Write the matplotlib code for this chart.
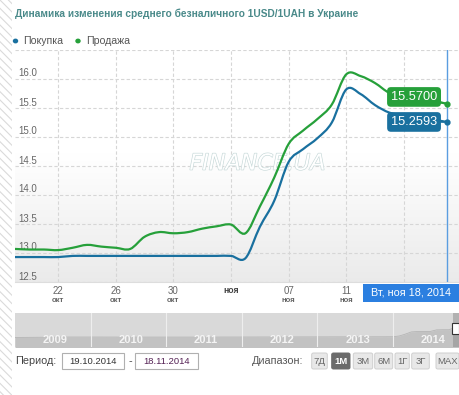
import matplotlib
matplotlib.use('Agg')
import matplotlib.pyplot as plt
import matplotlib.patheffects as pe
import matplotlib.dates as mdates
from matplotlib.patches import Rectangle, FancyBboxPatch, PathPatch
from matplotlib.path import Path
import numpy as np
import pandas as pd

W, H = 460, 395

# --- data ---
dates = pd.date_range('2014-10-19', '2014-11-18', freq='D')
buy = [12.93, 12.93, 12.93, 12.93, 12.95, 12.95, 12.95, 12.95, 12.95, 12.95,
       12.95, 12.95, 12.95, 12.95, 12.95, 12.95, 12.91, 13.45, 13.90, 14.57,
       14.79, 14.98, 15.25, 15.82, 15.74, 15.55, 15.42, 15.37, 15.33, 15.30, 15.2593]
sell = [13.07, 13.06, 13.06, 13.05, 13.09, 13.14, 13.11, 13.09, 13.07, 13.28,
        13.36, 13.34, 13.36, 13.42, 13.46, 13.49, 13.34, 13.80, 14.30, 14.88,
        15.11, 15.31, 15.56, 16.08, 16.05, 15.93, 15.76, 15.71, 15.67, 15.63, 15.57]

tick_dates = pd.to_datetime(['2014-10-22', '2014-10-26', '2014-10-30', '2014-11-03',
                             '2014-11-07', '2014-11-11', '2014-11-15'])
tick_days = ['22', '26', '30', '', '07', '11', '']
tick_months = ['окт', 'окт', 'окт', 'ноя', 'ноя', 'ноя', '']
y_ticks = [12.5, 13.0, 13.5, 14.0, 14.5, 15.0, 15.5, 16.0]
y_top = 16.5

nav_years = ['2009', '2010', '2011', '2012', '2013', '2014']
nav_dates = pd.to_datetime(['2009-01-01', '2009-04-01', '2009-07-01', '2009-10-01',
                            '2010-01-01', '2010-07-01', '2011-01-01', '2011-07-01',
                            '2012-01-01', '2012-07-01', '2013-01-01', '2013-07-01',
                            '2014-01-01', '2014-02-01', '2014-03-01', '2014-04-01',
                            '2014-05-01', '2014-06-01', '2014-07-01', '2014-08-01',
                            '2014-09-01', '2014-10-01', '2014-11-01', '2014-11-18'])
nav_values = [7.7, 7.8, 7.9, 8.0, 8.0, 7.95, 7.95, 7.97, 8.0, 8.05, 8.1, 8.15,
              8.2, 8.7, 9.9, 11.5, 11.8, 11.8, 11.8, 12.9, 13.0, 13.0, 14.8, 15.5]

title = 'Динамика изменения среднего безналичного 1USD/1UAH в Украине'
legend_labels = ['Покупка', 'Продажа']
tooltip = 'Вт, ноя 18, 2014'
period_from, period_to = '19.10.2014', '18.11.2014'
range_buttons = ['7Д', '1М', '3М', '6М', '1Г', '3Г', 'MAX']
selected_button = '1М'

blue = '#19709f'
green = '#26a03a'
grid_c = '#d6d6d6'

plt.rcParams['font.family'] = ['Liberation Sans', 'DejaVu Sans']
plt.rcParams['hatch.linewidth'] = 0.8

fig = plt.figure(figsize=(W / 100, H / 100), dpi=100)
fig.patch.set_facecolor('white')


def fx(x):
    return x / W


def fy(y):
    return 1 - y / H


def spline(ax, xs, ys, color):
    # smooth curve through the points (like a highcharts spline series)
    x = mdates.date2num(xs)
    y = np.asarray(ys, float)
    n = len(x)
    verts = [(x[0], y[0])]
    codes = [Path.MOVETO]
    for i in range(n - 1):
        xp, yp = (x[i - 1], y[i - 1]) if i > 0 else (x[i], y[i])
        xn, yn = (x[i + 2], y[i + 2]) if i + 2 < n else (x[i + 1], y[i + 1])
        c1 = (x[i] + (x[i + 1] - xp) / 6, y[i] + (y[i + 1] - yp) / 6)
        c2 = (x[i + 1] - (xn - x[i]) / 6, y[i + 1] - (yn - y[i]) / 6)
        verts += [c1, c2, (x[i + 1], y[i + 1])]
        codes += [Path.CURVE4] * 3
    ax.add_patch(PathPatch(Path(verts, codes), fill=False, ec=color, lw=1.6, zorder=4))


# hatched strip on the left
fig.patches.append(Rectangle((0, 0), fx(12), 1, transform=fig.transFigure,
                             fill=False, hatch='\\\\\\\\', edgecolor='#dadada', lw=0))

# title and legend
fig.text(fx(15), fy(14), title, fontsize=7.3, weight='bold', color='#4a8a8a', va='center')
for lx, lab, col in [(15.5, legend_labels[0], blue), (78, legend_labels[1], green)]:
    fig.patches.append(matplotlib.patches.Circle((fx(lx), fy(41)), 2.0 / W,
                                                 transform=fig.transFigure, color=col))
    fig.text(fx(lx + 8), fy(41), lab, fontsize=7.6, color='#555555', va='center')

# --- main chart ---
ax = fig.add_axes([fx(15), fy(282), (W - 15) / W, (282 - 50) / H])
x0 = dates[0]
x1 = dates[0] + pd.Timedelta(days=30.9)

grad = np.ones((100, 1, 3))
shade = np.clip((np.linspace(0, 1, 100) - 0.45) / 0.55, 0, 1)
for i in range(3):
    grad[:, 0, i] = 1 - 0.08 * shade
ax.imshow(grad, extent=[0, 1, 0, 1], transform=ax.transAxes, aspect='auto',
          origin='upper', zorder=0)

for v in y_ticks + [y_top]:
    ax.axhline(v, color=grid_c, lw=0.8, dashes=(3, 2), zorder=1)
    if v in y_ticks:
        ax.annotate(f'{v:.1f}', xy=(0, v), xycoords=('axes fraction', 'data'),
                    xytext=(3, 5.5), textcoords='offset pixels', ha='left', va='center',
                    fontsize=7, color='#666666')
for d, day, mon in zip(tick_dates, tick_days, tick_months):
    ax.axvline(d, color=grid_c, lw=0.8, dashes=(3, 2), zorder=1)
    if day:
        ax.annotate(day, xy=(d, 0), xycoords=('data', 'axes fraction'), xytext=(0, -8.5),
                    textcoords='offset pixels', ha='center', va='center',
                    fontsize=7, color='#666666', annotation_clip=False)
        ax.annotate(mon, xy=(d, 0), xycoords=('data', 'axes fraction'), xytext=(0, -19),
                    textcoords='offset pixels', ha='center', va='center',
                    fontsize=5.6, weight='bold', color='#666666', annotation_clip=False)
    elif mon:
        ax.annotate(mon, xy=(d, 0), xycoords=('data', 'axes fraction'), xytext=(0, -8.5),
                    textcoords='offset pixels', ha='center', va='center',
                    fontsize=6.2, weight='bold', color='#444444', annotation_clip=False)

ax.text(0.545, 0.51, 'FINANCE.UA', transform=ax.transAxes, ha='center', va='center',
        fontsize=16, style='italic', family='DejaVu Sans', color='white', zorder=2,
        path_effects=[pe.withStroke(linewidth=0.9, foreground='#c6d8d8')])

spline(ax, dates, buy, blue)
spline(ax, dates, sell, green)
ax.axvline(dates[-1], color='#5a9de0', lw=1, zorder=3)
ax.plot(dates[-1], buy[-1], 'o', color=blue, ms=3.5, zorder=5)
ax.plot(dates[-1], sell[-1], 'o', color=green, ms=3.5, zorder=5)

for val, col, dy in [(sell[-1], green, 7), (buy[-1], blue, 0)]:
    ax.annotate(f'{val:.4f}', xy=(dates[-1], val), xytext=(-33, dy),
                textcoords='offset pixels', ha='center', va='center', fontsize=9.2,
                color='white', zorder=6,
                bbox=dict(boxstyle='round,pad=0.3,rounding_size=0.3', fc=col, ec='none'),
                arrowprops=dict(arrowstyle='-', color=col, lw=1.2, shrinkA=0, shrinkB=2))

ax.set_xlim(x0, x1)
ax.set_ylim(12.5, y_top)
ax.set_xticks([])
ax.set_yticks([])
for s in ['top', 'left', 'right']:
    ax.spines[s].set_visible(False)
ax.spines['bottom'].set_color('#dddddd')

# tooltip box under the crosshair
fig.patches.append(Rectangle((fx(363), fy(302)), (460 - 363) / W, 18 / H,
                             transform=fig.transFigure, fc='#2b7fe0', ec='none'))
fig.text(fx(411.5), fy(292.5), tooltip, fontsize=7.8, color='white', ha='center', va='center')

# --- navigator ---
nav = fig.add_axes([fx(15), fy(347), (W - 15) / W, 34 / H])
nav.set_facecolor('#d9d9d9')
nav.fill_between(nav_dates, nav_values, 0, color='#c2c2c2', lw=0)
nav.plot(nav_dates, nav_values, color='#b5b5b5', lw=0.6)
nav.set_xlim(pd.Timestamp('2009-01-01'), pd.Timestamp('2014-11-22'))
nav.set_ylim(1.2, 24.4)
for yr in nav_years:
    t = pd.Timestamp(f'{yr}-01-01')
    if yr != nav_years[0]:
        nav.axvline(t, color='#eeeeee', lw=0.8)
    nav.annotate(yr, xy=(t, 0), xycoords=('data', 'axes fraction'), xytext=(28, 7),
                 textcoords='offset pixels', ha='left', va='center', fontsize=8,
                 weight='bold', color='#f4f4f4')
nav.axvspan(pd.Timestamp('2014-10-19'), pd.Timestamp('2014-11-22'), color='#8a8a8a', alpha=0.5, lw=0)
nav.set_xticks([])
nav.set_yticks([])
for s in nav.spines.values():
    s.set_visible(False)
fig.patches.append(Rectangle((fx(452), fy(334)), 7 / W, 11 / H, transform=fig.transFigure,
                             fc='white', ec='#333333', lw=0.8, zorder=5))
for hx in [454.5, 456.5]:
    fig.lines.append(matplotlib.lines.Line2D([fx(hx), fx(hx)], [fy(332), fy(325)],
                                             transform=fig.transFigure, color='#333333', lw=0.7))

# --- period / range controls ---
fig.text(fx(15), fy(361), 'Период:', fontsize=7.8, color='#444444', va='center')
for left, right, txt, col in [(61.7, 124, period_from, '#333333'), (135, 198, period_to, '#552255')]:
    fig.patches.append(Rectangle((fx(left), fy(369)), (right - left) / W, 16 / H,
                                 transform=fig.transFigure, fc='white', ec='#b0b0b0', lw=0.8))
    fig.text(fx((left + right) / 2), fy(361), txt, fontsize=6.8, color=col, ha='center', va='center')
fig.text(fx(130), fy(361), '-', fontsize=7.8, color='#444444', ha='center', va='center')

fig.text(fx(251.5), fy(361), 'Диапазон:', fontsize=7.8, color='#555555', va='center')
btn_left = [311.7, 331.7, 353.3, 374.7, 395.0, 411.7, 436.0]
btn_right = [327.3, 350.0, 372.7, 392.7, 409.3, 429.3, 459.0]
for lab, l, r in zip(range_buttons, btn_left, btn_right):
    sel = lab == selected_button
    fig.patches.append(FancyBboxPatch((fx(l), fy(369)), (r - l) / W, 16 / H,
                                      boxstyle='round,pad=0,rounding_size=0.004',
                                      transform=fig.transFigure,
                                      fc='#6b6b6b' if sel else '#e8e8e8',
                                      ec='#6b6b6b' if sel else '#cfcfcf', lw=0.7))
    fig.text(fx((l + r) / 2), fy(361), lab, fontsize=6.8, ha='center', va='center',
             color='white' if sel else '#666666', weight='bold' if sel else 'normal')

fig.savefig('out.png', dpi=100)
